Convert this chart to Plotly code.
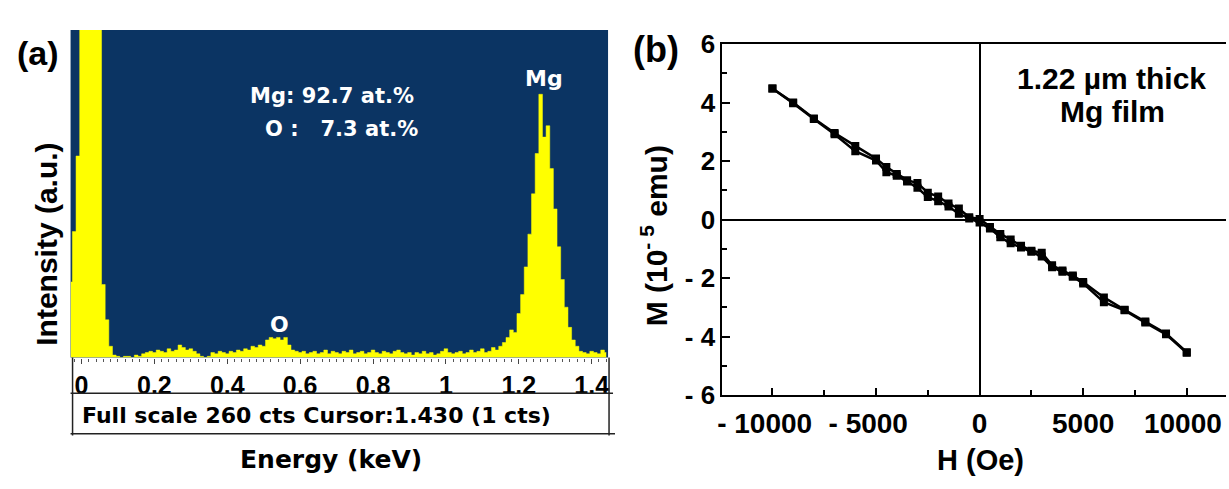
import plotly.graph_objects as go

W, H = 1229, 489

# ---------------- Panel (a): EDS spectrum ----------------
energy_start = -0.03
energy_step = 0.01
eds_counts = [
    60, 100, 160, 400, 400, 400, 400, 400, 400, 58,
    30, 9, 2, 1, 0, 1, 1, 0, 2, 1,
    3, 4, 5, 4, 6, 5, 4, 7, 5, 6,
    10, 8, 6, 7, 5, 3, 1, 0, 1, 4,
    3, 5, 4, 3, 5, 4, 6, 5, 7, 6,
    9, 8, 10, 9, 14, 16, 15, 16, 14, 16,
    10, 6, 5, 4, 5, 3, 4, 5, 3, 4,
    6, 3, 5, 4, 3, 5, 4, 6, 3, 4,
    5, 3, 4, 6, 4, 3, 5, 4, 3, 5,
    6, 4, 3, 4, 2, 4, 3, 5, 3, 4,
    2, 3, 5, 7, 4, 3, 4, 5, 3, 4,
    6, 4, 5, 7, 4, 5, 8, 6, 9, 12,
    16, 22, 20, 35, 50, 72, 98, 130, 162, 209,
    175, 184, 150, 118, 88, 62, 40, 24, 14, 9,
    5, 4, 3, 5, 4, 3, 6, 4,
]
eds_energy = [round(energy_start + i * energy_step, 3) for i in range(len(eds_counts))]

eds_tickvals = [0, 0.2, 0.4, 0.6, 0.8, 1.0, 1.2, 1.4]
eds_ticktext = ["0", "0.2", "0.4", "0.6", "0.8", "1", "1.2", "1.4"]

# ---------------- Panel (b): M-H loop ----------------
field_branch1 = [-10000, -9000, -8000, -7000, -6000, -5000, -4500, -4000, -3500, -3000,
                 -2500, -2000, -1500, -1000, -500, 0, 500, 1000, 1500, 2000,
                 2500, 3000, 3500, 4000, 4500, 5000, 6000, 7000, 8000, 9000, 10000]
moment_branch1 = [4.48, 4.00, 3.46, 2.96, 2.52, 2.09, 1.80, 1.56, 1.35, 1.25,
                  0.92, 0.79, 0.55, 0.38, 0.08, 0.02, -0.25, -0.49, -0.68, -0.89,
                  -1.06, -1.13, -1.56, -1.74, -1.91, -2.13, -2.66, -3.08, -3.48, -3.89, -4.53]
field_branch2 = [10000, 9000, 8000, 7000, 6000, 5000, 4500, 4000, 3500, 3000,
                 2500, 2000, 1500, 1000, 500, 0, -500, -1000, -1500, -2000,
                 -2500, -3000, -3500, -4000, -4500, -5000, -6000, -7000, -8000, -9000, -10000]
moment_branch2 = [-4.55, -3.92, -3.52, -3.10, -2.82, -2.18, -1.95, -1.78, -1.63, -1.26,
                  -1.10, -0.95, -0.81, -0.60, -0.30, -0.10, 0.04, 0.20, 0.45, 0.63,
                  0.77, 1.09, 1.30, 1.50, 1.62, 2.02, 2.34, 2.92, 3.44, 3.98, 4.48]

mh_xtickvals = [-10000, -5000, 0, 5000, 10000]
mh_xticktext = ["- 10000\u00a0\u00a0", "- 5000\u00a0\u00a0", "0", "5000", "10000\u00a0"]
mh_ytickvals = [-6, -4, -2, 0, 2, 4, 6]
mh_yticktext = ["- 6", "- 4", "- 2", "0", "2", "4", "6"]


def px(x):
    return x / W


def py(y):
    return 1 - y / H


ARIAL = "Liberation Sans, Arial, sans-serif"
DEJAVU = "DejaVu Sans, sans-serif"
NAVY = "#0b3463"

fig = go.Figure()

fig.add_trace(go.Scatter(
    x=eds_energy, y=eds_counts, mode="lines", line=dict(shape="hvh", color="#ffff00", width=0.5),
    fill="tozeroy", fillcolor="#ffff00", xaxis="x", yaxis="y", showlegend=False, hoverinfo="skip"))

for hx, my in [(field_branch1, moment_branch1), (field_branch2, moment_branch2)]:
    fig.add_trace(go.Scatter(
        x=hx, y=my, mode="lines+markers", line=dict(color="black", width=2.5),
        marker=dict(symbol="square", size=8, color="black"),
        xaxis="x2", yaxis="y2", showlegend=False))

fig.update_layout(
    width=W, height=H, autosize=False, margin=dict(l=0, r=0, t=0, b=0, pad=0),
    paper_bgcolor="white", plot_bgcolor="rgba(0,0,0,0)",
    xaxis=dict(domain=[px(66), px(607)], range=[-0.03, 1.445], showgrid=False, zeroline=False,
               tickvals=eds_tickvals, ticktext=eds_ticktext, ticks="outside", ticklen=5,
               tickcolor="#444", tickwidth=1, tickangle=0,
               minor=dict(dtick=0.02, tick0=0, ticks="outside", ticklen=3, tickcolor="#555"),
               tickfont=dict(family=ARIAL, size=25, color="black", weight="bold"),
               showline=False, anchor="y"),
    yaxis=dict(domain=[py(365), py(16)], range=[0, 260], showgrid=False, zeroline=False,
               showticklabels=False, ticks="", showline=False, anchor="x"),
    xaxis2=dict(domain=[px(722), 1.0], range=[-12420, 11895], showgrid=False,
                zeroline=True, zerolinecolor="black", zerolinewidth=2,
                tickvals=mh_xtickvals, ticktext=mh_xticktext, ticks="inside", ticklen=7,
                tickcolor="black", tickwidth=1.5, tickangle=0, ticklabeloverflow="allow",
                minor=dict(dtick=2500, tick0=0, ticks="inside", ticklen=5, tickcolor="black"),
                tickfont=dict(family=ARIAL, size=28, color="black", weight="bold"),
                ticklabelstandoff=2,
                showline=True, linecolor="black", linewidth=2, mirror=True, anchor="y2"),
    yaxis2=dict(domain=[py(405), py(31)], range=[-6, 6], showgrid=False,
                zeroline=True, zerolinecolor="black", zerolinewidth=2,
                tickvals=mh_ytickvals, ticktext=mh_yticktext, ticks="inside", ticklen=8,
                tickcolor="black", tickwidth=1.5,
                minor=dict(dtick=1, tick0=0, ticks="inside", ticklen=5, tickcolor="black"),
                tickfont=dict(family=ARIAL, size=26, color="black", weight="bold"),
                showline=True, linecolor="black", linewidth=2, mirror=False, anchor="x2"),
)

shapes = [
    dict(type="rect", xref="x domain", yref="y domain", x0=0, x1=1, y0=0, y1=1,
         fillcolor=NAVY, line=dict(width=0), layer="below"),
    dict(type="line", xref="paper", yref="paper", x0=px(66), x1=px(612), y0=py(403), y1=py(403),
         line=dict(color="#222", width=1.5)),
    dict(type="line", xref="paper", yref="paper", x0=px(66), x1=px(614), y0=py(446), y1=py(446),
         line=dict(color="#222", width=1.5)),
    dict(type="line", xref="paper", yref="paper", x0=px(68), x1=px(68), y0=py(365), y1=py(448),
         line=dict(color="#222", width=1.5)),
    dict(type="line", xref="paper", yref="paper", x0=px(608), x1=px(608), y0=py(365), y1=py(448),
         line=dict(color="#222", width=1.5)),
]
fig.update_layout(shapes=shapes)


def ann(text, x, y, size, family=ARIAL, color="black", angle=0, xanchor="center"):
    fig.add_annotation(text=text, x=px(x), y=py(y), xref="paper", yref="paper",
                       showarrow=False, xanchor=xanchor, yanchor="middle", textangle=angle,
                       font=dict(family=family, size=size, color=color, weight="bold"))


ann("(a)", 33, 40, 34)
ann("Intensity (a.u.)", 41, 244, 30, angle=-90)
ann("Mg: 92.7 at.%", 329, 86, 21, family=DEJAVU, color="white")
ann("O :\u00a0\u00a0\u00a07.3 at.%", 339, 121, 21, family=DEJAVU, color="white")
ann("Mg", 543, 68, 22, family=DEJAVU, color="white")
ann("O", 276, 330, 22, family=DEJAVU, color="white")
ann("Full scale 260 cts Cursor:1.430 (1 cts)", 75, 427, 22, family=DEJAVU, xanchor="left")
ann("Energy (keV)", 328, 474, 25, family=DEJAVU)

ann("(b)", 655, 37, 36)
ann("M (10<sup>- 5</sup> emu)", 653, 235, 30, angle=-90)
ann("H (Oe)", 982, 474, 29)
ann("1.22 \u00b5m thick", 1114, 68, 30)
ann("Mg film", 1115, 103, 30)

fig.write_html("out.html", config={"displayModeBar": False, "responsive": False},
               post_script="document.body.style.margin='0';document.body.style.overflow='hidden';")
